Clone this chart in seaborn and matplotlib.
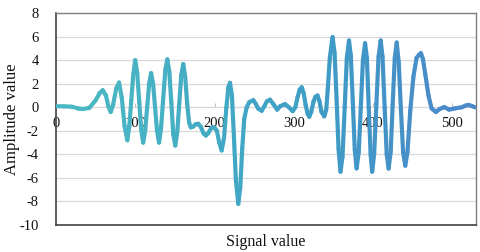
import numpy as np
import pandas as pd
import matplotlib
matplotlib.use("Agg")
import matplotlib.pyplot as plt
import seaborn as sns

# signal
signal_x = [0, 10, 20, 28, 34, 42, 50, 55, 59, 63, 66, 69, 72, 76, 79.5, 83, 86.5,
            90, 92.5, 95, 97.5, 100, 102.5, 105, 107.5, 110, 112.5, 115, 117.5, 120,
            122.5, 125, 127.5, 130, 132.5, 135, 138, 140.5, 143, 145.5, 148, 150.5,
            153, 155.5, 158, 160.6, 163, 165.5, 168, 170, 173, 176, 179.6, 183, 186,
            189, 192, 196, 199.8, 203, 206, 209, 212, 215, 217.5, 219.5, 222, 224.5,
            227, 230, 232.5, 235, 237.5, 240.6, 244, 249, 252, 255, 259.5, 263, 266,
            270, 274, 279, 283, 289, 294, 298.6, 302, 305, 307.5, 310, 312.5, 315,
            317.5, 319.6, 322, 325, 327.5, 330, 332.5, 335, 338.5, 341, 343, 345.5,
            349, 351.5, 354, 356.5, 359, 361.5, 364.3, 367, 369.7, 372, 374.5, 377,
            379.3, 382, 384.6, 387.3, 390, 392.3, 394.6, 397, 399, 401.5, 404.3, 407,
            409.7, 412, 414.7, 417.3, 419.7, 422.3, 424.8, 427.5, 429.9, 432.5, 435.3,
            438, 440.7, 443.5, 447, 451, 455, 458, 460.5, 463, 466, 470, 474, 479.4,
            484, 490, 496, 503, 512, 517, 521, 525, 528.6]
signal_y = [0.1, 0.08, 0.05, -0.1, -0.15, -0.05, 0.6, 1.2, 1.45, 1.0, 0.1, -0.4, 0.2,
            1.6, 2.1, 0.8, -1.6,
            -2.8, -1.6, 0.6, 2.8, 4.0, 2.9, 0.5, -1.9, -3.0, -2.0, 0.0, 2.0, 2.9,
            2.0, 0.0, -2.0, -3.0, -1.8, 0.5, 3.2, 4.07, 3.0, 0.4, -2.3, -3.25,
            -2.1, 0.3, 2.7, 3.67, 2.6, 0.3, -1.3, -1.7, -1.65, -1.45, -1.4, -1.7, -2.2,
            -2.4, -2.2, -1.75, -1.7, -2.0, -3.0, -3.67, -2.6, 0.0, 1.7, 2.08, 1.0, -2.5,
            -6.2, -8.2, -6.8, -3.5, -1.0, 0.0, 0.45, 0.6, 0.3, -0.1, -0.3, 0.1, 0.5,
            0.65, 0.3, -0.2, 0.1, 0.27, 0.0, -0.33, 0.0, 0.9, 1.5, 1.7, 1.2, 0.2,
            -0.55, -0.8, -0.4, 0.5, 0.9, 1.0, 0.5, -0.4, -0.77, -0.2, 1.6, 4.2,
            5.96, 4.6, 0.8, -3.5, -5.47, -4.2, 0.0, 4.2, 5.67, 4.4, 0.5, -3.6,
            -5.19, -3.8, 0.0, 4.0, 5.44, 4.2, 0.0, -4.0, -5.47, -3.9, 0.3, 4.3,
            5.67, 4.3, 0.0, -4.0, -5.2, -3.8, 0.2, 4.2, 5.5, 3.8, -0.3,
            -3.8, -4.96, -3.8, -0.3, 2.6, 4.2, 4.45, 4.6, 4.1, 2.8, 1.0, -0.1, -0.4,
            -0.15, 0.02, -0.2, -0.1, 0.0, 0.15, 0.2, 0.1, 0.0]

x_ticks = [0, 100, 200, 300, 400, 500]
y_ticks = [-10, -8, -6, -4, -2, 0, 2, 4, 6, 8]

sns.set_style("white")
plt.rcParams["font.family"] = ["Liberation Serif", "DejaVu Serif"]
plt.rcParams["axes.unicode_minus"] = False

# split into two-point segments so the colour can run from teal to blue
n = len(signal_x)
rows = []
for i in range(n - 1):
    rows.append((signal_x[i], signal_y[i], i))
    rows.append((signal_x[i + 1], signal_y[i + 1], i))
df = pd.DataFrame(rows, columns=["x", "y", "seg"])
colors = sns.blend_palette(["#4BB8C3", "#43ABC4", "#3F9AC6", "#4A8ACA"], n_colors=n - 1)
palette = {i: colors[i] for i in range(n - 1)}

fig = plt.figure(figsize=(4.8, 2.52), dpi=100)
ax = fig.add_axes([0.1167, 0.107, 0.875, 0.841])

sns.lineplot(data=df, x="x", y="y", hue="seg", palette=palette,
             estimator=None, sort=False, legend=False, linewidth=3.0,
             solid_capstyle="round", solid_joinstyle="round", ax=ax, zorder=3)

ax.set_xlim(0, 530)
ax.set_ylim(-10, 8)
ax.set_yticks(y_ticks)
ax.yaxis.grid(True, color="#D9D9D9", linewidth=0.9)
ax.xaxis.grid(False)
ax.tick_params(axis="x", bottom=False, labelbottom=False)
ax.tick_params(axis="y", left=False, pad=9, labelsize=10.5, labelcolor="#111111")

for side in ["left", "bottom"]:
    ax.spines[side].set_color("#333333")
    ax.spines[side].set_linewidth(1.1)
for side in ["top", "right"]:
    ax.spines[side].set_color("#7F7F7F")
    ax.spines[side].set_linewidth(1.0)

# horizontal axis crosses at zero
sec = ax.secondary_xaxis(10 / 18)
sec.set_alignment("bottom")
sec.spines["bottom"].set_visible(False)
sec.set_xticks(x_ticks)
sec.tick_params(direction="in", length=3, color="#BFBFBF", pad=7,
                labelsize=10.5, labelcolor="#111111")

ax.set_xlabel("Signal value", fontsize=11.5, color="#111111")
ax.set_ylabel("Amplitude value", fontsize=12, color="#111111")
ax.xaxis.set_label_coords(0.5, -0.04)
ax.yaxis.set_label_coords(-0.085, 0.5)

fig.savefig("out.png", dpi=100)
